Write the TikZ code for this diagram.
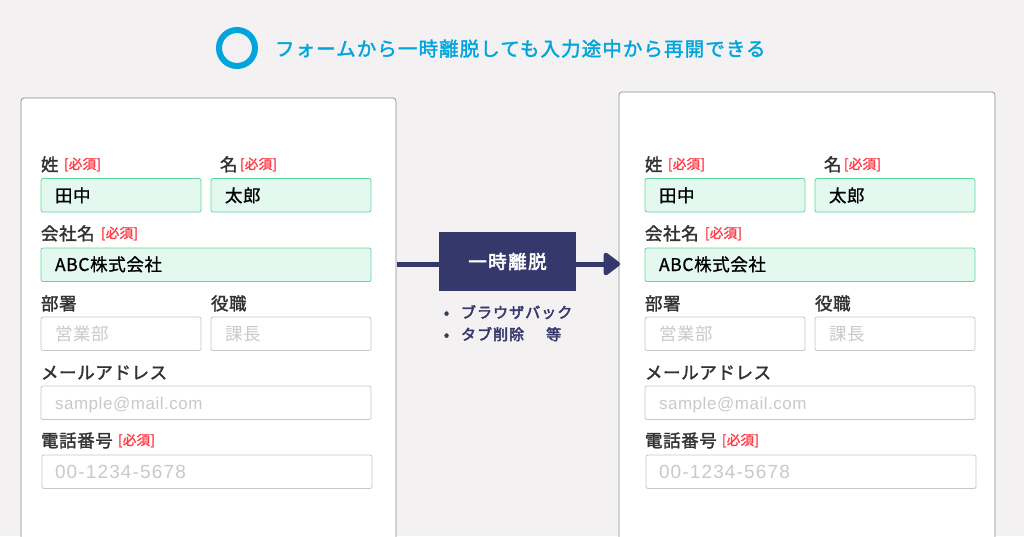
\documentclass[tikz,border=0pt]{standalone}
\usepackage{fontspec}
\usetikzlibrary{arrows.meta}
\setmainfont{Noto Sans CJK JP}
\newfontfamily\latinfont{Liberation Sans}
\definecolor{bgc}{HTML}{F3F1F2}
\definecolor{navy}{HTML}{35386B}
\definecolor{okline}{HTML}{5ED99B}
\definecolor{okfill}{HTML}{E3F8EF}
\definecolor{reqred}{HTML}{FF3B45}
\definecolor{skyc}{HTML}{00A5DC}
\definecolor{labelc}{HTML}{333333}
\definecolor{hintc}{HTML}{C9C9C9}
\definecolor{emptyline}{HTML}{C8C8C8}
\definecolor{cardline}{HTML}{8C8C8C}
\newcommand{\fsz}[2]{\fontsize{#1}{#1}\selectfont\addfontfeature{LetterSpace=#2}}
\newcommand{\fszb}[3]{\fontsize{#1}{#1}\selectfont\addfontfeature{LetterSpace=#2,FakeBold=#3}}
\tikzset{
  x=1pt,y=-1pt,
  every node/.style={inner sep=0pt,outer sep=0pt},
  cardbox/.style={draw=cardline,fill=white,line width=.7pt,rounded corners=3pt,anchor=north west,minimum width=375pt,minimum height=480pt},
  fieldbase/.style={rounded corners=2pt,line width=.8pt,anchor=north west,minimum height=33.5pt},
  okfield/.style={fieldbase,draw=okline,fill=okfill},
  emptyfield/.style={fieldbase,draw=emptyline,fill=white},
  lab/.style={anchor=base west,text=labelc,font=\fszb{17.5}{3.5}{1.8}},
  req/.style={anchor=base west,text=reqred,font=\fszb{13.5}{2}{1.6}},
  val/.style={anchor=base west,text=black,font=\fszb{17.5}{3.5}{1}},
  hint/.style={anchor=base west,text=hintc,font=\fsz{17.5}{3.5}},
  hintmail/.style={anchor=base west,text=hintc,font=\latinfont\fsz{17}{3.2}},
  hinttel/.style={anchor=base west,text=hintc,font=\latinfont\fsz{19}{6}},
  bar/.style={draw=navy,line width=5pt},
}
\newcommand{\formblock}[2]{%
\begin{scope}[xshift=#2pt]
  \node[okfield,minimum width=160pt] (#1f1) at (41,178.5) {};
  \node[okfield,minimum width=160pt] (#1f2) at (211,178.5) {};
  \node[okfield,minimum width=330pt] (#1f3) at (41,248) {};
  \node[emptyfield,minimum width=160pt] (#1f4) at (41,317) {};
  \node[emptyfield,minimum width=160pt] (#1f5) at (211,317) {};
  \node[emptyfield,minimum width=330pt] (#1f6) at (41,386) {};
  \node[emptyfield,minimum width=330pt] (#1f7) at (42,455) {};
  \node[lab] (#1l1) at (41,171) {姓};
  \node[req] (#1r1) at (64,169) {[必須]};
  \node[lab] (#1l2) at (220,171) {名};
  \node[req] (#1r2) at (240,169) {[必須]};
  \node[lab] (#1l3) at (41,240) {会社名};
  \node[req] (#1r3) at (101,238) {[必須]};
  \node[lab] (#1l4) at (41,310) {部署};
  \node[lab] (#1l5) at (211,310) {役職};
  \node[lab] (#1l6) at (41,379) {メールアドレス};
  \node[lab] (#1l7) at (41,447) {電話番号};
  \node[req] (#1r7) at (118,445) {[必須]};
  \node[val] (#1v1) at (55,202) {田中};
  \node[val] (#1v2) at (225,202) {太郎};
  \node[val] (#1v3) at (55,271) {ABC株式会社};
  \node[hint] (#1v4) at (55,340) {営業部};
  \node[hint] (#1v5) at (225,340) {課長};
  \node[hintmail] (#1v6) at (55,409) {sample@mail.com};
  \node[hinttel] (#1v7) at (55,478) {00-1234-5678};
\end{scope}}
\begin{document}
\begin{tikzpicture}
  \useasboundingbox (0,0) rectangle (1024,536);
  \clip (0,0) rectangle (1024,536);
  \fill[bgc] (0,0) rectangle (1024,536);
  \node[draw=skyc,line width=6pt,circle,minimum size=36pt] (mark) at (237,48) {};
  \node[anchor=base west,text=skyc,font=\fszb{19.5}{5.6}{1.8}] (title) at (275,56) {フォームから一時離脱しても入力途中から再開できる};
  \node[cardbox] (cardL) at (21,98) {};
  \node[cardbox,minimum width=376pt] (cardR) at (619,92) {};
  \formblock{a}{0}
  \formblock{b}{604}
  \coordinate (barin) at (397,264);
  \node[fill=navy,anchor=north west,minimum width=137pt,minimum height=59pt] (pause) at (439,232) {};
  \node[text=white,font=\fszb{18.5}{8}{3}] (pausetext) at (507.5,261.5) {一時離脱};
  \coordinate (barmid) at (439,264);
  \coordinate (barout) at (576,264);
  \coordinate (barend) at (620,264);
  \draw[bar] (barin) -- (barmid);
  \draw[bar,-{Triangle[length=18pt,width=26pt,round]}] (barout) -- (barend);
  \node[anchor=base west,text=navy,font=\fszb{15}{7}{3}] (li1) at (444,318) {\makebox[17pt][l]{•}ブラウザバック};
  \node[anchor=base west,text=navy,font=\fszb{15}{7}{3}] (li2) at (444,340) {\makebox[17pt][l]{•}タブ削除\hspace{22pt}等};
\end{tikzpicture}
\end{document}
